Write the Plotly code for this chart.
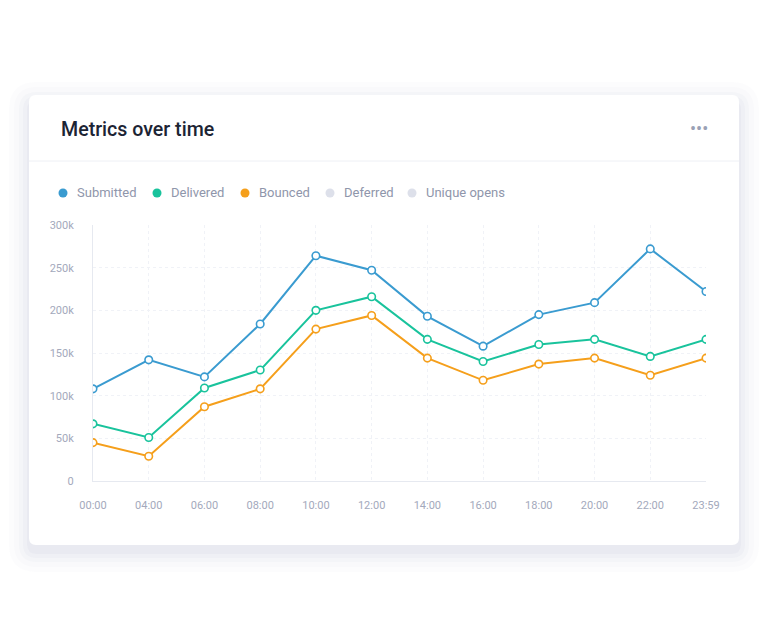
import plotly.graph_objects as go

times = ['00:00', '04:00', '06:00', '08:00', '10:00', '12:00',
         '14:00', '16:00', '18:00', '20:00', '22:00', '23:59']
submitted = [108000, 142000, 122000, 184000, 264000, 247000,
             193000, 158000, 195000, 209000, 272000, 222000]
delivered = [67000, 51000, 109000, 130000, 200000, 216000,
             166000, 140000, 160000, 166000, 146000, 166000]
bounced = [45000, 29000, 87000, 108000, 178000, 194000,
           144000, 118000, 137000, 144000, 124000, 144000]
y_ticks = [0, 50000, 100000, 150000, 200000, 250000, 300000]
y_labels = ['0', '50k', '100k', '150k', '200k', '250k', '300k']

series = [
    ('Submitted', submitted, '#3a9bd0'),
    ('Delivered', delivered, '#19c39c'),
    ('Bounced', bounced, '#f59f1b'),
]
legend_names = ['Submitted', 'Delivered', 'Bounced', 'Deferred', 'Unique opens']
legend_colors = ['#3a9bd0', '#19c39c', '#f59f1b', '#dde0ea', '#dde0ea']

# the page adds an 8px body margin, so the figure is 8px smaller
OFF = 8
W, H = 768 - OFF, 637 - OFF
L, R, T, B = 93, 706, 225, 481   # plot area in page pixels


def px(x):
    return (x - L) / (R - L)


def py(y):
    return (B - y) / (B - T)


def rounded_rect(x0, y0, x1, y1, r):
    rx = r / (R - L)
    ry = r / (B - T)
    a0, a1 = px(x0), px(x1)
    b0, b1 = py(y1), py(y0)
    return (f'M {a0 + rx},{b0} L {a1 - rx},{b0} Q {a1},{b0} {a1},{b0 + ry} '
            f'L {a1},{b1 - ry} Q {a1},{b1} {a1 - rx},{b1} '
            f'L {a0 + rx},{b1} Q {a0},{b1} {a0},{b1 - ry} '
            f'L {a0},{b0 + ry} Q {a0},{b0} {a0 + rx},{b0} Z')


fig = go.Figure()

for name, values, color in series:
    fig.add_trace(go.Scatter(
        x=times, y=values, name=name, mode='lines+markers',
        line=dict(color=color, width=2),
        marker=dict(size=7.5, color='white', line=dict(color=color, width=1.6)),
        showlegend=False,
    ))

# card with soft shadow
shapes = []
for spread, alpha in [(20, 0.02), (15, 0.025), (10, 0.03), (6, 0.035), (2, 0.045)]:
    shapes.append(dict(
        type='path', xref='paper', yref='paper', layer='below',
        path=rounded_rect(29 - spread, 95 - spread + 7, 739 + spread, 545 + spread + 7, 8 + spread),
        fillcolor=f'rgba(110,125,170,{alpha})', line=dict(width=0),
    ))
shapes.append(dict(
    type='path', xref='paper', yref='paper', layer='below',
    path=rounded_rect(29, 95, 739, 545, 7),
    fillcolor='white', line=dict(width=0),
))
shapes.append(dict(
    type='line', xref='paper', yref='paper', layer='below',
    x0=px(29), x1=px(739), y0=py(161), y1=py(161),
    line=dict(color='#eef0f5', width=1),
))

annotations = [
    dict(text='Metrics over time', xref='paper', yref='paper',
         x=px(59), y=py(129), xanchor='left', yanchor='middle',
         showarrow=False, font=dict(size=19.6, color='#1c2434', weight=500)),
    dict(text='\u2022\u2022\u2022', xref='paper', yref='paper',
         x=px(699), y=py(128), xanchor='center', yanchor='middle',
         showarrow=False, font=dict(size=18, color='#9aa1b5')),
]

# legend row: dot + label
legend_dot_x = [63, 157, 245, 330, 412]
legend_y = 193
for name, color, cx in zip(legend_names, legend_colors, legend_dot_x):
    r = 4.5
    shapes.append(dict(
        type='circle', xref='paper', yref='paper',
        x0=px(cx - r), x1=px(cx + r), y0=py(legend_y + r), y1=py(legend_y - r),
        fillcolor=color, line=dict(width=0),
    ))
    annotations.append(dict(
        text=name, xref='paper', yref='paper',
        x=px(cx + 12), y=py(legend_y - 0.5), xanchor='left', yanchor='middle',
        showarrow=False, font=dict(size=13, color='#8f96ab'),
    ))

fig.update_layout(
    width=W, height=H,
    margin=dict(l=L - OFF, r=W - (R - OFF), t=T - OFF, b=H - (B - OFF)),
    paper_bgcolor='white',
    plot_bgcolor='rgba(0,0,0,0)',
    font=dict(family='Roboto', color='#a3a9bc'),
    shapes=shapes,
    annotations=annotations,
    showlegend=False,
)

fig.update_xaxes(
    type='category', range=[0, len(times) - 1],
    showgrid=True, gridcolor='#f0f2f7', griddash='dot', gridwidth=1,
    showline=True, linecolor='#e6e9f0', linewidth=1,
    ticks='outside', ticklen=14, tickcolor='rgba(0,0,0,0)',
    tickfont=dict(size=11, color='#a3a9bc'),
    zeroline=False, fixedrange=True,
)
fig.update_yaxes(
    range=[0, 300000], tickvals=y_ticks, ticktext=y_labels,
    showgrid=True, gridcolor='#f0f2f7', griddash='dot', gridwidth=1,
    showline=True, linecolor='#e6e9f0', linewidth=1,
    ticks='outside', ticklen=16, tickcolor='rgba(0,0,0,0)',
    tickfont=dict(size=11, color='#a3a9bc'),
    zeroline=False, fixedrange=True,
)

fig.write_html('out.html', config={'displayModeBar': False})
